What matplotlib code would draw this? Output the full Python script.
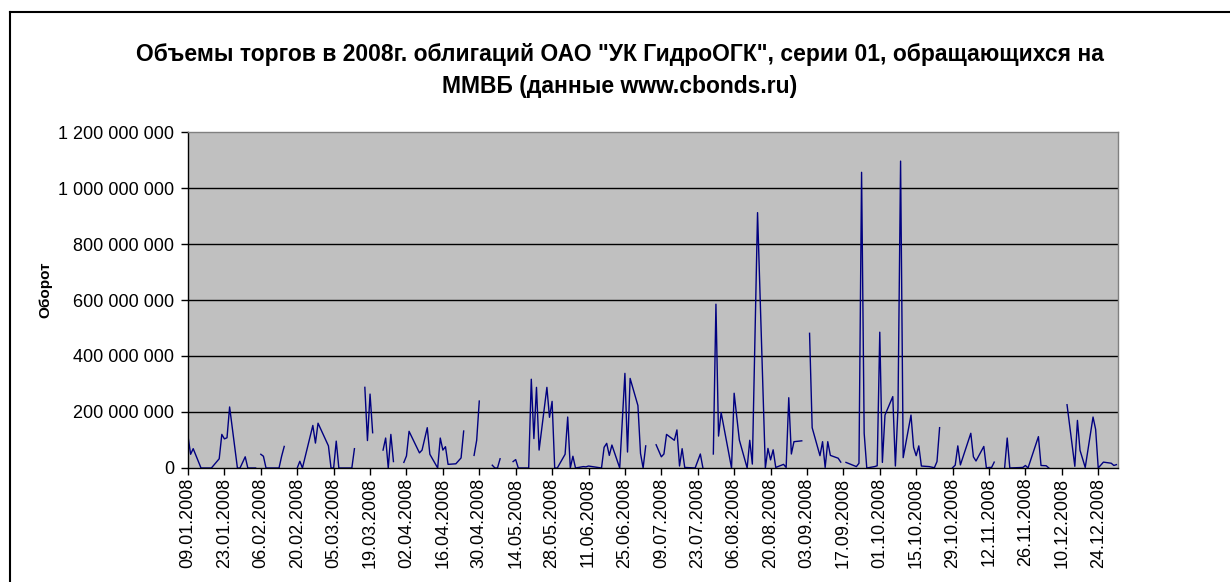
import numpy as np
import matplotlib
matplotlib.use('Agg')
import matplotlib.pyplot as plt
from matplotlib.ticker import FuncFormatter
from matplotlib.lines import Line2D
from datetime import datetime, timedelta

plt.rcParams['font.family'] = ['Liberation Sans', 'DejaVu Sans']

# дни от 09.01.2008 и оборот, млн руб. (nan = нет торгов, разрыв линии)
start = datetime(2008, 1, 9)
nan = np.nan
day = [0, 1, 2, 5, 9, 12, 13, 14, 15, 16, 19, 20, 22, 23, 26,
       27,
       28, 29, 30, 35, 36, 37,
       40,
       42, 43, 44, 48, 49, 50, 54, 55, 56, 57, 58, 61, 62, 63, 64,
       65,
       68, 69, 70, 71,
       72,
       75, 76, 77, 78, 79,
       82,
       83, 84, 85, 89, 90, 92, 93, 96, 97, 98, 99, 100, 103, 105, 106,
       107,
       110, 111, 112,
       113,
       117, 118, 119, 120,
       121,
       125, 126, 127, 131, 132, 133, 134, 135, 138, 139, 140, 141, 142, 145, 146, 147,
       148, 149, 152, 153, 154, 159, 160, 161, 162, 163, 166, 168, 169, 170, 173, 174,
       175, 176,
       177,
       180, 182, 183, 184, 187, 188, 189, 190, 191, 195, 197, 198,
       201,
       202, 203, 204, 205, 209, 210, 212, 215, 216, 217, 219, 222, 223, 224, 225, 226,
       229, 230, 231, 232, 233, 236,
       237,
       239, 240, 243, 244, 245, 246, 247, 250, 251,
       252,
       253, 257, 258, 259, 260, 261, 264, 265, 266, 267, 268, 271, 272, 273, 274, 275,
       278, 279, 280, 281, 282, 285, 287, 288, 289,
       292,
       294, 295, 296, 297, 301, 302, 303, 306, 307, 308, 309, 310,
       313,
       314, 315, 316, 321, 322, 323, 327, 328, 330, 331,
       334,
       338, 341, 342, 343, 345, 348, 349, 350, 352, 355, 356, 357]
oborot_mln = [114, 49, 69, 0, 0, 33, 120, 104, 108, 218, 0, 0, 40, 0, 0,
              nan,
              49, 42, 0, 0, 42, 77,
              nan,
              0, 24, 0, 152, 89, 160, 79, 0, 0, 96, 0, 0, 0, 0, 69,
              nan,
              288, 98, 264, 126,
              nan,
              64, 107, 0, 120, 23,
              nan,
              20, 43, 131, 54, 64, 144, 49, 0, 107, 64, 76, 13, 15, 36, 132,
              nan,
              45, 99, 239,
              nan,
              10, 0, 0, 33,
              nan,
              23, 30, 0, 0, 317, 105, 288, 64, 288, 181, 238, 0, 0, 49, 182, 0,
              42, 0, 5, 4, 7, 0, 74, 88, 45, 82, 0, 338, 57, 320, 223, 52,
              0, 79,
              nan,
              83, 40, 50, 120, 99, 136, 7, 69, 2, 0, 50, 0,
              nan,
              50, 585, 114, 198, 0, 267, 100, 0, 99, 14, 912, 0, 70, 29, 65, 2,
              13, 2, 251, 50, 94, 97,
              nan,
              481, 144, 44, 94, 2, 94, 45, 35, 21,
              nan,
              20, 5, 17, 1056, 124, 0, 5, 8, 485, 20, 189, 255, 7, 213, 1096, 37,
              189, 74, 44, 79, 7, 5, 1, 23, 144,
              nan,
              1, 10, 79, 11, 124, 40, 25, 77, 0, 2, 2, 21,
              nan,
              0, 107, 0, 2, 9, 0, 112, 9, 8, 0,
              nan,
              226, 6, 170, 63, 2, 182, 138, 0, 21, 17, 9, 12]

tick_labels = ['09.01.2008', '23.01.2008', '06.02.2008', '20.02.2008', '05.03.2008',
               '19.03.2008', '02.04.2008', '16.04.2008', '30.04.2008', '14.05.2008',
               '28.05.2008', '11.06.2008', '25.06.2008', '09.07.2008', '23.07.2008',
               '06.08.2008', '20.08.2008', '03.09.2008', '17.09.2008', '01.10.2008',
               '15.10.2008', '29.10.2008', '12.11.2008', '26.11.2008', '10.12.2008',
               '24.12.2008']

title1 = 'Объемы торгов в 2008г. облигаций ОАО "УК ГидроОГК", серии 01, обращающихся на'
title2 = 'ММВБ (данные www.cbonds.ru)'

dates = [start + timedelta(days=d) for d in day]
vals = np.array(oborot_mln, dtype=float) * 1e6
tick_dates = [datetime.strptime(s, '%d.%m.%Y') for s in tick_labels]

W, H = 1230, 582
fig = plt.figure(figsize=(W / 100, H / 100), dpi=100)
ax = fig.add_axes([188 / W, 1 - 468 / H, (1118 - 188) / W, (468 - 132) / H])
ax.set_facecolor('#C0C0C0')

yt = np.arange(0, 1.2e9 + 1, 2e8)
for y in yt[1:-1]:
    ax.axhline(y, color='black', lw=1, zorder=1)

ax.plot(dates, vals, color='#000080', lw=1, zorder=3)

ax.set_xlim(start, start + timedelta(days=357.6))
ax.set_ylim(0, 1.2e9)
ax.set_yticks(yt)
ax.yaxis.set_major_formatter(FuncFormatter(lambda v, p: f'{int(v):,}'.replace(',', ' ')))
ax.set_xticks(tick_dates)
ax.set_xticklabels(tick_labels, rotation=90)

for s in ['top', 'right']:
    ax.spines[s].set_color('#808080')
for s in ['left', 'bottom']:
    ax.spines[s].set_color('black')
for s in ax.spines.values():
    s.set_linewidth(1)
    s.set_zorder(4)
ax.tick_params(direction='out', length=5, width=1, labelsize=13)
ax.tick_params(axis='x', pad=2)
ax.tick_params(axis='y', pad=5)

fig.text(620 / W, 1 - 55 / H, title1, ha='center', va='center', fontsize=16.5, weight='bold')
fig.text(620 / W, 1 - 86 / H, title2, ha='center', va='center', fontsize=16.5, weight='bold')
fig.text(45 / W, 1 - 290 / H, 'Оборот', rotation=90, ha='center', va='center',
         fontsize=11, weight='bold')

# рамка диаграммы
fig.add_artist(Line2D([10 / W, 10 / W], [0, 1 - 12 / H], color='black', lw=1.5))
fig.add_artist(Line2D([10 / W, 1], [1 - 12 / H, 1 - 12 / H], color='black', lw=1.5))

fig.savefig('out.png', dpi=100)
